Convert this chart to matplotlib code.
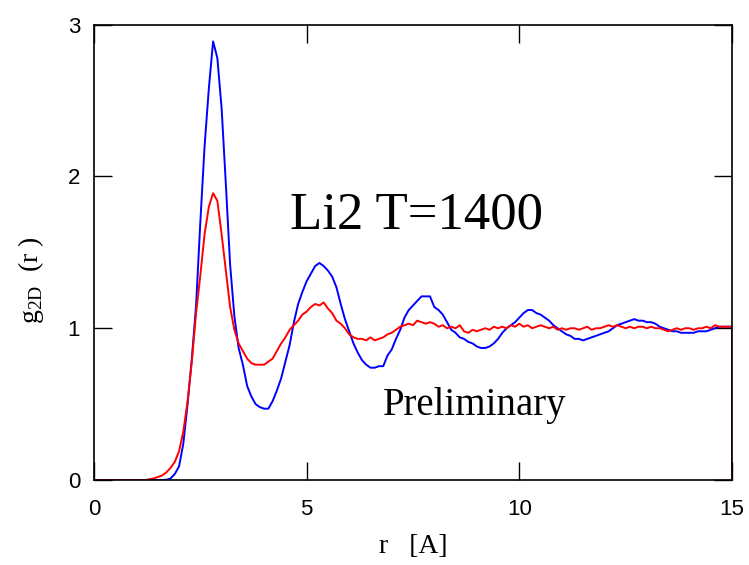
import numpy as np
import matplotlib
matplotlib.use("Agg")
import matplotlib.pyplot as plt

plt.rcParams['mathtext.fontset'] = 'custom'
plt.rcParams['mathtext.rm'] = 'Liberation Serif'

# r grid 0..15 step 0.1
r = np.round(np.arange(0, 15.01, 0.1), 2)

# blue curve
g_blue = [0.0] * 17 + [
    0.002, 0.01, 0.04, 0.09, 0.24, 0.50, 0.80, 1.15, 1.70, 2.20,   # 1.7 - 2.6
    2.58, 2.89, 2.78, 2.45, 1.95, 1.42, 1.08, 0.87, 0.76, 0.62,    # 2.7 - 3.6
    0.55, 0.50, 0.48, 0.47, 0.47, 0.52, 0.59, 0.67, 0.78, 0.89,    # 3.7 - 4.6
    1.04, 1.16, 1.24, 1.31, 1.36, 1.41, 1.43, 1.41, 1.38, 1.34,    # 4.7 - 5.6
    1.27, 1.16, 1.06, 0.98, 0.90, 0.84, 0.79, 0.76, 0.74, 0.74,    # 5.7 - 6.6
    0.75, 0.75, 0.82, 0.86, 0.93, 0.99, 1.07, 1.12, 1.15, 1.18,    # 6.7 - 7.6
    1.21, 1.21, 1.21, 1.14, 1.12, 1.09, 1.04, 0.99, 0.97, 0.94,    # 7.7 - 8.6
    0.93, 0.91, 0.90, 0.88, 0.87, 0.87, 0.88, 0.90, 0.93, 0.97,    # 8.7 - 9.6
    1.00, 1.02, 1.04, 1.07, 1.10, 1.12, 1.12, 1.10, 1.09, 1.07,    # 9.7 - 10.6
    1.05, 1.02, 1.00, 0.98, 0.96, 0.95, 0.93, 0.93, 0.92, 0.93,    # 10.7 - 11.6
    0.94, 0.95, 0.96, 0.97, 0.98, 1.00, 1.02, 1.03, 1.04, 1.05,    # 11.7 - 12.6
    1.06, 1.05, 1.05, 1.04, 1.04, 1.03, 1.01, 1.00, 0.99, 0.98,    # 12.7 - 13.6
    0.98, 0.97, 0.97, 0.97, 0.97, 0.98, 0.98, 0.98, 0.99, 1.00,    # 13.7 - 14.6
    1.01, 1.01, 1.01, 1.01,                                        # 14.7 - 15.0
]

# red curve
g_red = [0.0] * 13 + [
    0.005, 0.01, 0.02, 0.03, 0.05, 0.08, 0.12, 0.19, 0.32, 0.52,   # 1.3 - 2.2
    0.78, 1.10, 1.35, 1.62, 1.80, 1.89, 1.84, 1.62, 1.38, 1.14,    # 2.3 - 3.2
    0.99, 0.90, 0.85, 0.80, 0.77, 0.76, 0.76, 0.76, 0.78, 0.80,    # 3.3 - 4.2
    0.85, 0.90, 0.94, 0.99, 1.02, 1.05, 1.09, 1.11, 1.14, 1.16,    # 4.3 - 5.2
    1.15, 1.17, 1.13, 1.10, 1.05, 1.03, 1.00, 0.96, 0.94, 0.93,    # 5.3 - 6.2
    0.93, 0.92, 0.94, 0.92, 0.93, 0.94, 0.96, 0.97, 0.99, 1.01,    # 6.3 - 7.2
    1.02, 1.03, 1.02, 1.05, 1.04, 1.03, 1.04, 1.03, 1.01, 1.02,    # 7.3 - 8.2
    1.00, 1.01, 1.00, 1.02, 0.98, 0.97, 0.99, 0.98, 0.99, 1.00,    # 8.3 - 9.2
    0.99, 1.01, 1.00, 1.01, 1.00, 1.02, 1.01, 1.03, 1.01, 1.02,    # 9.3 - 10.2
    1.00, 1.01, 1.02, 1.01, 1.00, 1.01, 0.99, 1.00, 0.99, 1.00,    # 10.3 - 11.2
    1.00, 0.99, 1.00, 1.01, 0.99, 1.00, 1.00, 1.01, 1.02, 1.01,    # 11.3 - 12.2
    1.02, 1.01, 1.00, 1.01, 1.00, 1.01, 1.01, 1.00, 1.01, 1.00,    # 12.3 - 13.2
    1.00, 0.99, 0.98, 0.99, 1.00, 0.99, 1.00, 1.00, 0.99, 1.00,    # 13.3 - 14.2
    1.00, 1.01, 1.00, 1.02, 1.01, 1.01, 1.01, 1.01,                # 14.3 - 15.0
]

# both curves drop to zero at the last point r = 15
r_end = 15.0
g_end = 0.0

fig = plt.figure(figsize=(7.49, 5.65), dpi=100)
ax = fig.add_axes([0.1255, 0.1504, 0.8518, 0.8059])

ax.plot(list(r) + [r_end], g_blue + [g_end], color='#0000ff', lw=1.4)
ax.plot(list(r) + [r_end], g_red + [g_end], color='#ff0000', lw=1.4)

ax.set_xlim(0, 15)
ax.set_ylim(0, 3)
ax.set_xticks([0, 5, 10, 15])
ax.set_yticks([0, 1, 2, 3])
ax.tick_params(direction='in', length=13, width=1, top=True, right=True,
               labelsize=16)
ax.tick_params(axis='x', pad=14)
ax.tick_params(axis='y', pad=10)
for lab in ax.get_xticklabels() + ax.get_yticklabels():
    lab.set_family('Liberation Sans')
for s in ax.spines.values():
    s.set_linewidth(1.2)

ax.set_xlabel('r   [A]', family='Liberation Serif', fontsize=20, labelpad=10)
ax.set_ylabel(r'g$_{\rm 2D}$  (r )', family='Liberation Serif', fontsize=20)
ax.yaxis.set_label_coords(-0.075, 0.44)

ax.text(4.6, 1.66, 'Li2 T=1400', family='Liberation Serif', fontsize=38)
ax.text(6.8, 0.43, 'Preliminary', family='Liberation Serif', fontsize=28)

fig.savefig('out.png', dpi=100)
